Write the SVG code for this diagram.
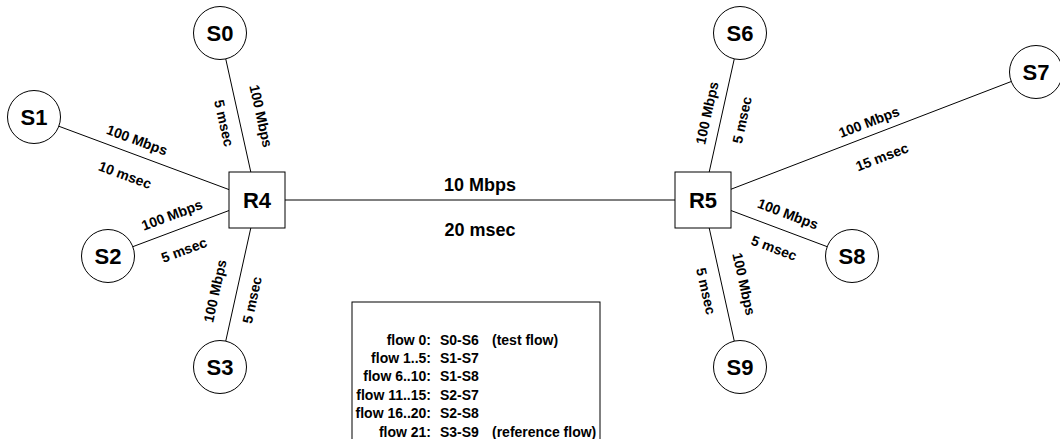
<svg xmlns="http://www.w3.org/2000/svg" width="1060" height="439" viewBox="0 0 1060 439">
<style>
.ln{stroke:#000;stroke-width:1;fill:none}
.nd{fill:#fff;stroke:#000;stroke-width:1}
.nl{font-family:"Liberation Sans",Arial,sans-serif;font-weight:bold;font-size:22px;text-anchor:middle;fill:#000}
.lb{font-family:"Liberation Sans",Arial,sans-serif;font-weight:bold;font-size:14px;text-anchor:middle;fill:#000}
.cl{font-family:"Liberation Sans",Arial,sans-serif;font-weight:bold;font-size:18px;text-anchor:middle;fill:#000}
.lg{font-family:"Liberation Sans",Arial,sans-serif;font-weight:bold;font-size:14px;fill:#000}
</style>
<rect width="1060" height="439" fill="#fff"/>
<g id="connectors">
<line class="ln" x1="220" y1="33" x2="257" y2="200"/>
<line class="ln" x1="34" y1="117" x2="257" y2="200"/>
<line class="ln" x1="108" y1="256" x2="257" y2="200"/>
<line class="ln" x1="220" y1="367" x2="257" y2="200"/>
<line class="ln" x1="257" y1="200" x2="703" y2="200"/>
<line class="ln" x1="740" y1="33" x2="703" y2="200"/>
<line class="ln" x1="1036" y1="72" x2="703" y2="200"/>
<line class="ln" x1="852" y1="256" x2="703" y2="200"/>
<line class="ln" x1="740" y1="367" x2="703" y2="200"/>
</g>
<g id="link-labels">
<text class="lb" transform="translate(261,116) rotate(77.5)" dy="0.35em">100 Mbps</text>
<text class="lb" transform="translate(224,123) rotate(77.5)" dy="0.35em">5 msec</text>
<text class="lb" transform="translate(137,140) rotate(20.4)" dy="0.35em">100 Mbps</text>
<text class="lb" transform="translate(125,175) rotate(20.4)" dy="0.35em">10 msec</text>
<text class="lb" transform="translate(172,215) rotate(-20.6)" dy="0.35em">100 Mbps</text>
<text class="lb" transform="translate(184,250) rotate(-20.6)" dy="0.35em">5 msec</text>
<text class="lb" transform="translate(215,291) rotate(-77.5)" dy="0.35em">100 Mbps</text>
<text class="lb" transform="translate(252,300) rotate(-77.5)" dy="0.35em">5 msec</text>
<text class="cl" x="480" y="191">10 Mbps</text>
<text class="cl" x="480" y="236">20 msec</text>
<text class="lb" transform="translate(707,113) rotate(-77.5)" dy="0.35em">100 Mbps</text>
<text class="lb" transform="translate(742,120) rotate(-77.5)" dy="0.35em">5 msec</text>
<text class="lb" transform="translate(869,122) rotate(-21)" dy="0.35em">100 Mbps</text>
<text class="lb" transform="translate(882,157) rotate(-21)" dy="0.35em">15 msec</text>
<text class="lb" transform="translate(788,214) rotate(20.6)" dy="0.35em">100 Mbps</text>
<text class="lb" transform="translate(774,248) rotate(20.6)" dy="0.35em">5 msec</text>
<text class="lb" transform="translate(744,284) rotate(77.5)" dy="0.35em">100 Mbps</text>
<text class="lb" transform="translate(706,291) rotate(77.5)" dy="0.35em">5 msec</text>
</g>
<g id="S0"><circle class="nd" cx="220" cy="33" r="26.5"/><text class="nl" x="220" y="41">S0</text></g>
<g id="S1"><circle class="nd" cx="34" cy="117" r="26.5"/><text class="nl" x="34" y="125">S1</text></g>
<g id="S2"><circle class="nd" cx="108" cy="256" r="26.5"/><text class="nl" x="108" y="264">S2</text></g>
<g id="S3"><circle class="nd" cx="220" cy="367" r="26.5"/><text class="nl" x="220" y="375">S3</text></g>
<g id="R4"><rect class="nd" x="229" y="172" width="56" height="56"/><text class="nl" x="257" y="208">R4</text></g>
<g id="R5"><rect class="nd" x="675" y="172" width="56" height="56"/><text class="nl" x="703" y="208">R5</text></g>
<g id="S6"><circle class="nd" cx="740" cy="33" r="26.5"/><text class="nl" x="740" y="41">S6</text></g>
<g id="S7"><circle class="nd" cx="1036" cy="72" r="26.5"/><text class="nl" x="1036" y="80">S7</text></g>
<g id="S8"><circle class="nd" cx="852" cy="256" r="26.5"/><text class="nl" x="852" y="264">S8</text></g>
<g id="S9"><circle class="nd" cx="740" cy="367" r="26.5"/><text class="nl" x="740" y="375">S9</text></g>
<g id="legend">
<rect class="nd" x="352" y="302" width="248" height="150"/>
<g class="lg" text-anchor="end">
<text x="431" y="344.5">flow 0:</text>
<text x="431" y="362.9">flow 1..5:</text>
<text x="431" y="381.3">flow 6..10:</text>
<text x="431" y="399.7">flow 11..15:</text>
<text x="431" y="418.1">flow 16..20:</text>
<text x="431" y="436.5">flow 21:</text>
</g>
<g class="lg">
<text x="440" y="344.5">S0-S6</text>
<text x="440" y="362.9">S1-S7</text>
<text x="440" y="381.3">S1-S8</text>
<text x="440" y="399.7">S2-S7</text>
<text x="440" y="418.1">S2-S8</text>
<text x="440" y="436.5">S3-S9</text>
<text x="492" y="344.5">(test flow)</text>
<text x="492" y="436.5">(reference flow)</text>
</g>
</g>
</svg>
